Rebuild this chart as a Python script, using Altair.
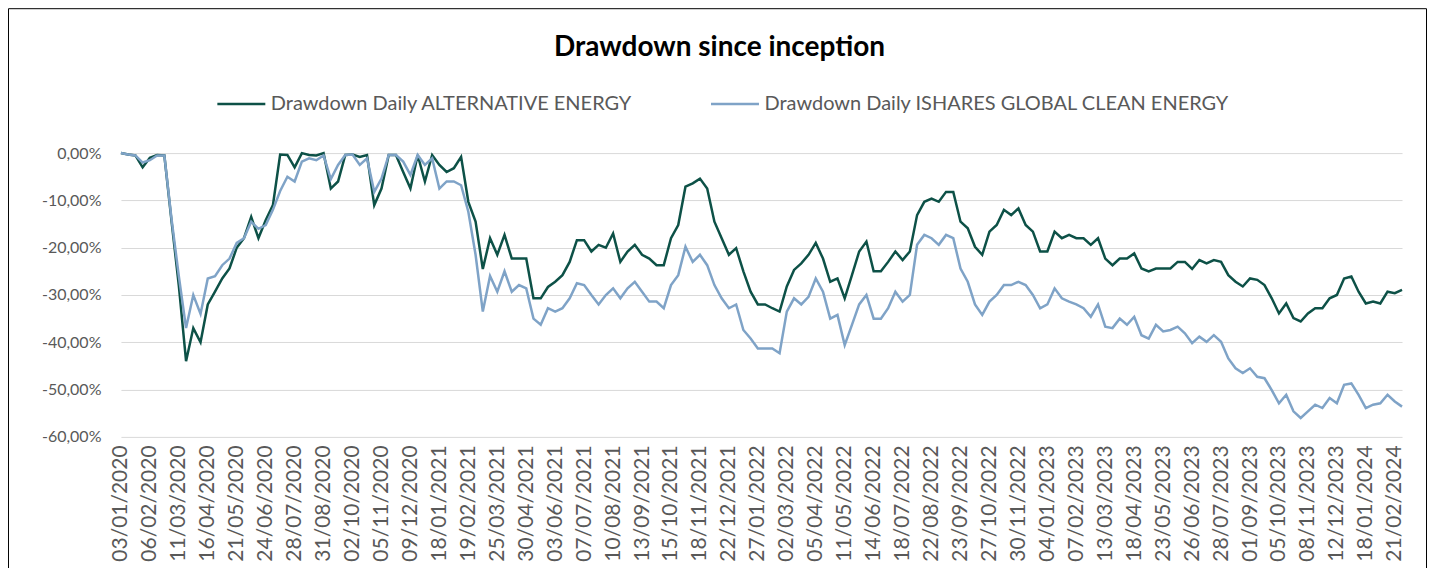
import altair as alt
import pandas as pd

# x-axis category labels (one every 24 trading days)
dates = ["03/01/2020", "06/02/2020", "11/03/2020", "16/04/2020", "21/05/2020", "24/06/2020",
         "28/07/2020", "31/08/2020", "02/10/2020", "05/11/2020", "09/12/2020", "18/01/2021",
         "19/02/2021", "25/03/2021", "30/04/2021", "03/06/2021", "07/07/2021", "10/08/2021",
         "13/09/2021", "15/10/2021", "18/11/2021", "22/12/2021", "27/01/2022", "02/03/2022",
         "05/04/2022", "11/05/2022", "14/06/2022", "18/07/2022", "22/08/2022", "23/09/2022",
         "27/10/2022", "30/11/2022", "04/01/2023", "07/02/2023", "13/03/2023", "18/04/2023",
         "23/05/2023", "26/06/2023", "28/07/2023", "01/09/2023", "05/10/2023", "08/11/2023",
         "12/12/2023", "18/01/2024", "21/02/2024"]

# drawdown (%) read every 6 trading days
alt_energy = [0, -0.3, -0.5, -3.0, -1.0, -0.4, -0.5, -14.5, -28, -44,
              -37, -40, -32, -29.3, -26.5, -24.4, -20, -18, -13.5, -18,
              -14.2, -11, -0.3, -0.4, -3, 0, -0.4, -0.5, 0, -7.5,
              -6, -0.4, -0.3, -0.8, -0.4, -11, -7.5, -0.4, -0.4, -4,
              -7.5, -0.4, -6, -0.4, -2.5, -4, -3.2, -0.8, -10.3, -14.5,
              -24.5, -18, -21.5, -17.3, -22.3, -22.3, -22.3, -30.7, -30.7, -28.3,
              -27.2, -25.8, -23, -18.4, -18.4, -20.8, -19.4, -20, -17, -23,
              -20.8, -19.4, -21.5, -22.3, -23.7, -23.7, -18, -15.2, -7.1, -6.4,
              -5.4, -7.5, -14.5, -18, -21.5, -20.1, -25, -29.3, -32, -32,
              -32.8, -33.5, -28.2, -24.7, -23.3, -21.5, -19, -22.3, -27.2, -26.5,
              -30.7, -25.8, -20.8, -18.7, -25, -25, -23, -20.8, -22.6, -20.8,
              -13.1, -10.3, -9.6, -10.3, -8.2, -8.2, -14.5, -15.9, -19.8, -21.5,
              -16.6, -15.2, -12, -13.1, -11.7, -15.2, -16.6, -20.8, -20.8, -16.6,
              -18, -17.3, -18, -18, -19.4, -18, -22.3, -23.7, -22.3, -22.3,
              -21.2, -24.4, -25, -24.4, -24.4, -24.4, -23, -23, -24.5, -22.6,
              -23.3, -22.6, -23, -25.8, -27.2, -28.2, -26.5, -26.8, -27.9, -30.7,
              -33.9, -31.8, -34.9, -35.6, -33.9, -32.8, -32.8, -30.7, -30, -26.5,
              -26.1, -29.3, -31.8, -31.4, -31.8, -29.3, -29.6, -28.9]

ishares = [0, -0.3, -0.5, -2.0, -1.5, -0.5, -0.5, -14, -26, -37,
           -30, -34, -26.5, -26, -23.7, -22.3, -19, -18, -14.5, -16,
           -15.2, -12, -8, -5, -6, -1.8, -1.1, -1.5, -0.5, -5.5,
           -2.5, -0.4, -0.3, -2.5, -1.1, -8.2, -5.4, -0.4, -0.4, -1.8,
           -4.6, -0.4, -2.5, -1.1, -7.5, -6, -6, -6.8, -12.4, -21.5,
           -33.5, -26, -29.3, -25, -29.3, -27.9, -28.6, -35, -36.3, -32.8,
           -33.5, -32.8, -30.7, -27.5, -27.9, -30, -32, -30, -28.6, -30.7,
           -28.6, -27.2, -29.3, -31.4, -31.4, -32.8, -27.9, -25.8, -19.8, -23,
           -21.5, -23.7, -27.9, -30.7, -32.8, -32, -37.4, -39.2, -41.3, -41.3,
           -41.3, -42.3, -33.5, -30.7, -32, -30.4, -26.5, -29.3, -35, -34.2,
           -40.6, -36.3, -32, -30, -35, -35, -32.8, -29.3, -31.4, -30,
           -19.4, -17.3, -18, -19.4, -17.3, -18, -24.4, -27.2, -32, -34.2,
           -31.4, -30, -27.9, -27.9, -27.2, -27.9, -30, -32.8, -32, -28.6,
           -30.7, -31.4, -32, -32.8, -34.6, -32, -36.7, -37, -35, -36.3,
           -34.6, -38.5, -39.2, -36.3, -37.7, -37.4, -36.7, -38.1, -40.2, -38.8,
           -39.9, -38.5, -39.9, -43.4, -45.5, -46.5, -45.5, -47.3, -47.6, -50.1,
           -52.9, -51.1, -54.6, -56, -54.6, -53.2, -53.9, -51.8, -52.9, -49,
           -48.7, -51.1, -53.9, -53.2, -52.9, -51.1, -52.5, -53.6]

series_names = ["Drawdown Daily ALTERNATIVE ENERGY",
                "Drawdown Daily ISHARES GLOBAL CLEAN ENERGY"]
series_colors = ["#0D5147", "#7FA3C7"]
y_ticks = [0, -10, -20, -30, -40, -50, -60]

STEP = 6
TICK_EVERY = 24

rows = []
for name, vals in zip(series_names, [alt_energy, ishares]):
    for i, v in enumerate(vals):
        rows.append({"day": i * STEP, "series": name, "dd": v})
df = pd.DataFrame(rows)

last_day = (len(alt_energy) - 1) * STEP
label_expr = "[" + ",".join("'" + d + "'" for d in dates) + "][round(datum.value / %d)]" % TICK_EVERY
y_label_expr = "(datum.value < 0 ? '-' : '') + replace(format(abs(datum.value) / 100, '.2%'), '.', ',')"

W, H = 1282, 284
PAD = {"left": 113, "top": 145, "right": 27, "bottom": 131}

x_enc = alt.X("day:Q",
              scale=alt.Scale(domain=[0, last_day], nice=False, zero=False),
              axis=alt.Axis(values=[TICK_EVERY * j for j in range(len(dates))],
                            labelExpr=label_expr, labelAngle=-90, grid=False,
                            ticks=False, domain=False, labelPadding=8,
                            labelOverlap=False, labelFontSize=21, labelFont="Lato",
                            labelColor="#595959", title=None))
y_enc = alt.Y("dd:Q",
              scale=alt.Scale(domain=[-60, 0], nice=False),
              axis=alt.Axis(values=y_ticks, labelExpr=y_label_expr, grid=True,
                            gridColor="#D9D9D9", gridWidth=1, ticks=False, domain=False,
                            labelPadding=20, labelFontSize=16, labelFont="Lato",
                            labelColor="#595959", title=None))
color_enc = alt.Color("series:N",
                      scale=alt.Scale(domain=series_names, range=series_colors),
                      legend=alt.Legend(orient="none", legendX=95, legendY=-75,
                                        direction="horizontal", title=None,
                                        symbolType="stroke", symbolSize=2304,
                                        symbolStrokeWidth=2.5, labelFontSize=20,
                                        labelFont="Lato", labelColor="#595959",
                                        labelLimit=700, labelOffset=4,
                                        columnPadding=72))

base = alt.Chart(df)
dark = base.transform_filter(alt.datum.series == series_names[0]).mark_line(
    strokeWidth=2.5).encode(x=x_enc, y=y_enc, color=color_enc)
light = base.transform_filter(alt.datum.series == series_names[1]).mark_line(
    strokeWidth=2.5).encode(x=x_enc, y=y_enc, color=color_enc)

border = alt.Chart(pd.DataFrame({"a": [0]})).mark_rect(
    filled=False, stroke="#000000", strokeWidth=1).encode(
    x=alt.value(-112.5), x2=alt.value(1306.5), y=alt.value(-144.5), y2=alt.value(700))

chart = alt.layer(border, dark, light).properties(
    width=W, height=H, padding=PAD,
    autosize=alt.AutoSizeParams(type="none"),
    title=alt.TitleParams("Drawdown since inception", fontSize=28, font="Lato",
                          fontWeight="bold", color="#000000", anchor="middle",
                          baseline="alphabetic", dx=-42, offset=0, dy=76),
).configure_view(strokeWidth=0)

chart.save("out.html", embed_options={"renderer": "svg", "actions": False})
